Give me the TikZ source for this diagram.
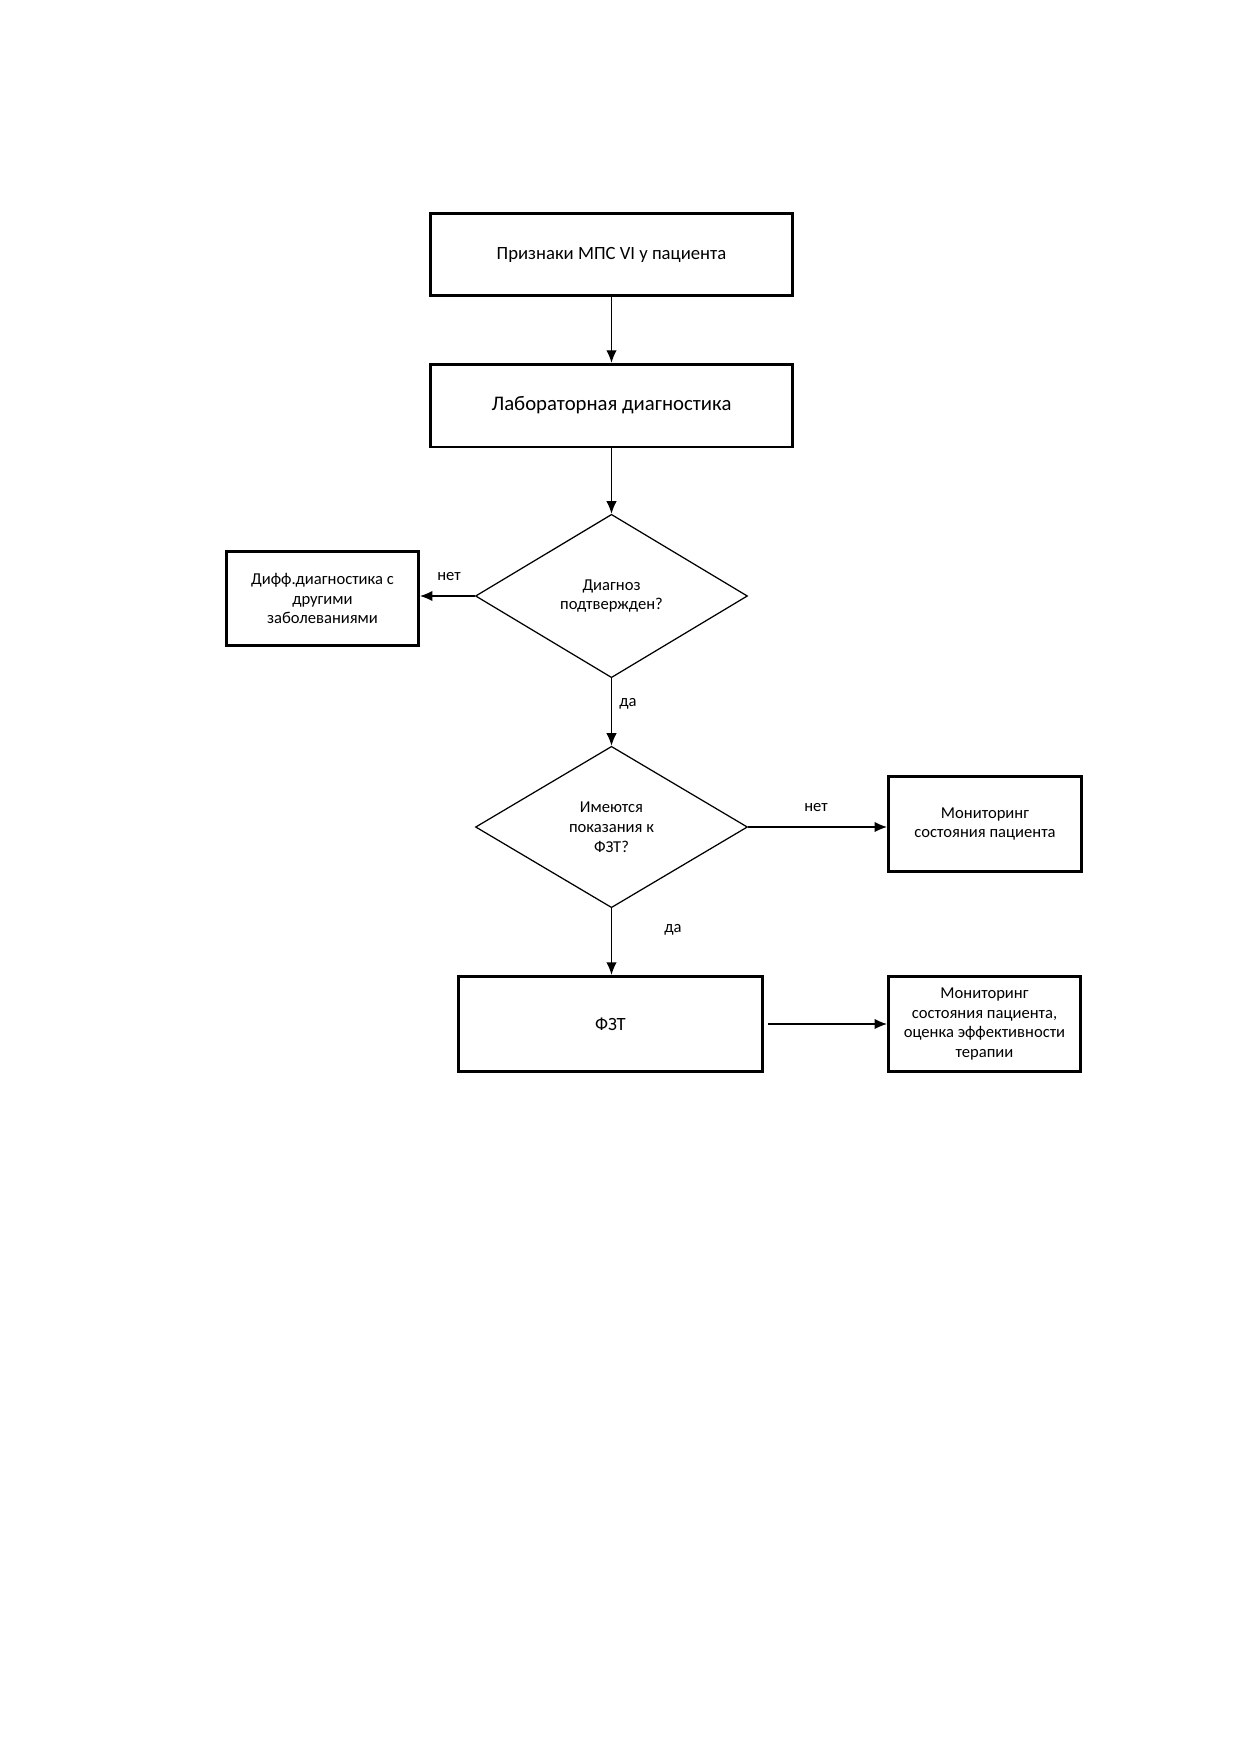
\documentclass[tikz,border=0pt]{standalone}
\usepackage{fontspec}
\setmainfont{Carlito}
\usetikzlibrary{shapes.geometric,arrows.meta}
\begin{document}
\begin{tikzpicture}[x=0.016935cm,y=-0.016935cm,
  bigbox/.style={draw,line width=1.3pt,inner sep=2pt,align=center,font=\fontsize{10}{12}\selectfont},
  smallbox/.style={draw,line width=1.3pt,inner sep=2pt,align=center,font=\fontsize{8}{9.6}\selectfont},
  decision/.style={draw,diamond,line width=0.6pt,inner sep=0pt,align=center,font=\fontsize{8}{9.6}\selectfont},
  conn/.style={line width=0.6pt,-{Latex[length=6pt,width=5pt]}},
  lbl/.style={font=\fontsize{8}{9.6}\selectfont}]
\useasboundingbox (0,0) rectangle (1240,1754);
\fill[white] (0,0) rectangle (1240,1754);
\node[bigbox,font=\fontsize{9}{11}\selectfont,minimum width=363*0.4801pt,minimum height=83*0.4801pt] (b1) at (611.5,254.5) {Признаки МПС VI у пациента};
\node[bigbox,minimum width=363*0.4801pt,minimum height=83*0.4801pt] (b2) at (611.5,405.5) {Лабораторная диагностика};
\node[decision,minimum width=273*0.4801pt,minimum height=164*0.4801pt] (d1) at (611.5,596) {Диагноз\\подтвержден?};
\node[smallbox,minimum width=193*0.4801pt,minimum height=95*0.4801pt] (dif) at (322.5,598.5) {Дифф.диагностика с\\другими\\заболеваниями};
\node[decision,minimum width=273*0.4801pt,minimum height=162*0.4801pt] (d2) at (611.5,827) {Имеются\\показания к\\ФЗТ?};
\node[smallbox,minimum width=194*0.4801pt,minimum height=96*0.4801pt] (mon) at (985,824) {Мониторинг\\состояния пациента};
\node[smallbox,font=\fontsize{9}{11}\selectfont,minimum width=305*0.4801pt,minimum height=96*0.4801pt] (fzt) at (610.5,1024) {ФЗТ};
\node[smallbox,minimum width=193*0.4801pt,minimum height=95*0.4801pt] (mon2) at (984.5,1024) {Мониторинг\\состояния пациента,\\оценка эффективности\\терапии};
\draw[conn] (b1) -- (b2);
\draw[conn] (b2) -- (d1);
\draw[conn] (d1.west) -- (d1.west -| dif.east);
\draw[conn] (d1.south) -- (d2.north);
\draw[conn] (d2.east) -- (d2.east -| mon.west);
\draw[conn] (d2.south) -- (d2.south |- fzt.north);
\draw[conn,shorten <=2pt] (fzt.east) -- (mon2.west);
\node[lbl] (l1) at (449,577) {нет};
\node[lbl] (l2) at (628,704) {да};
\node[lbl] (l3) at (816,808) {нет};
\node[lbl] (l4) at (673,930) {да};
\end{tikzpicture}
\end{document}
